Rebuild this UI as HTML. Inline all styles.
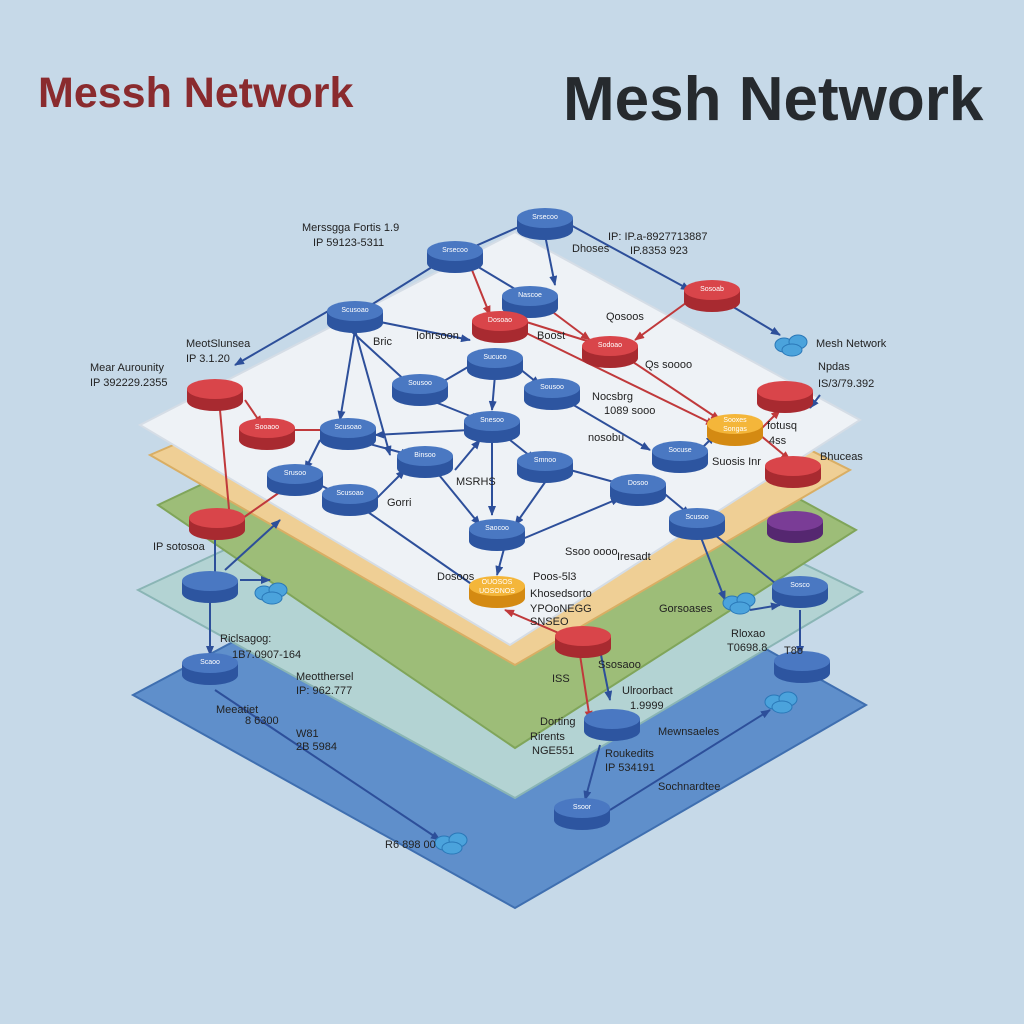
<!DOCTYPE html>
<html><head><meta charset="utf-8"><style>
html,body{margin:0;padding:0;background:#c6d9e8;}
svg{display:block;font-family:"Liberation Sans",sans-serif;}
</style></head><body>
<svg width="1024" height="1024" viewBox="0 0 1024 1024">
<defs>
<marker id="ab" markerUnits="userSpaceOnUse" markerWidth="10" markerHeight="8" refX="9" refY="4" orient="auto"><path d="M0,0 L10,4 L0,8 z" fill="#2d4f9a"/></marker>
<marker id="ar" markerUnits="userSpaceOnUse" markerWidth="10" markerHeight="8" refX="9" refY="4" orient="auto"><path d="M0,0 L10,4 L0,8 z" fill="#c0393b"/></marker>
<g id="cb"><path d="M-28,-4 v12 a28,10 0 0 0 56,0 v-12 z" fill="#2d55a0"/><ellipse cx="0" cy="-4" rx="28" ry="10" fill="#4a78c2"/></g>
<g id="cr"><path d="M-28,-4 v12 a28,10 0 0 0 56,0 v-12 z" fill="#a82a30"/><ellipse cx="0" cy="-4" rx="28" ry="10" fill="#d9454a"/></g>
<g id="co"><path d="M-28,-4 v12 a28,10 0 0 0 56,0 v-12 z" fill="#d48a12"/><ellipse cx="0" cy="-4" rx="28" ry="10" fill="#f4b63a"/></g>
<g id="cp"><path d="M-28,-4 v12 a28,10 0 0 0 56,0 v-12 z" fill="#552770"/><ellipse cx="0" cy="-4" rx="28" ry="10" fill="#7a3c96"/></g>
<g id="cl" fill="#4ba3dc" stroke="#2a78b8" stroke-width="1"><ellipse cx="-8" cy="0" rx="9" ry="7"/><ellipse cx="6" cy="-3" rx="9" ry="7"/><ellipse cx="0" cy="5" rx="10" ry="6"/></g>
</defs>
<rect width="1024" height="1024" fill="#c6d9e8"/>
<text x="38" y="107" font-size="43" font-weight="bold" fill="#8a2b2e">Messh Network</text>
<text x="563" y="120" font-size="62" font-weight="bold" fill="#262a2e">Mesh Network</text>

<polygon points="133,695 500,500 866,705 515,908" fill="#5f8fcb" stroke="#3f6fb0" stroke-width="2"/>
<polygon points="138,590 505,420 862,592 515,798" fill="#b3d3d3" stroke="#8ab5b5" stroke-width="2"/>
<polygon points="158,505 508,340 856,530 515,748" fill="#9dbd78" stroke="#80a55a" stroke-width="2"/>
<polygon points="150,455 510,300 850,470 515,665" fill="#efcf95" stroke="#d9ae64" stroke-width="2"/>
<polygon points="140,425 515,232 860,420 510,645" fill="#eef2f6" stroke="#d5dde6" stroke-width="2"/>

<g stroke="#2d4f9a" stroke-width="2" fill="none" marker-end="url(#ab)">
<path d="M455,255 L530,222"/><path d="M565,222 L690,290"/><path d="M355,315 L440,262"/>
<path d="M330,310 L235,365"/><path d="M470,262 L525,295"/><path d="M545,235 L555,285"/>
<path d="M380,322 L470,340"/><path d="M355,330 L340,420"/><path d="M350,330 L410,385"/>
<path d="M355,330 L390,455"/><path d="M420,395 L480,360"/><path d="M430,400 L480,420"/>
<path d="M515,365 L540,385"/><path d="M495,375 L492,410"/><path d="M565,400 L650,450"/>
<path d="M470,430 L375,435"/><path d="M320,440 L305,470"/><path d="M355,440 L410,455"/>
<path d="M455,470 L480,440"/><path d="M510,440 L535,460"/><path d="M492,440 L492,515"/>
<path d="M435,470 L480,525"/><path d="M548,478 L515,525"/><path d="M570,470 L625,485"/>
<path d="M375,500 L405,470"/><path d="M320,485 L340,495"/><path d="M365,510 L480,590"/>
<path d="M505,545 L497,575"/><path d="M520,540 L620,498"/><path d="M660,490 L690,515"/>
<path d="M690,460 L715,435"/><path d="M715,535 L790,595"/><path d="M700,535 L725,600"/>
<path d="M750,610 L780,605"/><path d="M800,610 L800,655"/><path d="M210,600 L210,655"/>
<path d="M240,580 L270,580"/><path d="M225,570 L280,520"/><path d="M610,810 L770,710"/>
<path d="M215,690 L440,840"/><path d="M600,745 L585,800"/><path d="M730,305 L780,335"/>
<path d="M215,510 L215,600"/><path d="M600,650 L610,700"/><path d="M820,395 L810,408"/>
</g>
<g stroke="#c0393b" stroke-width="2" fill="none" marker-end="url(#ar)">
<path d="M470,265 L490,315"/><path d="M520,320 L600,345"/><path d="M690,300 L635,340"/>
<path d="M550,310 L590,340"/><path d="M630,360 L720,420"/><path d="M520,330 L715,425"/>
<path d="M245,400 L262,425"/><path d="M290,430 L340,430"/><path d="M240,520 L290,485"/>
<path d="M760,430 L780,410"/><path d="M760,435 L790,460"/><path d="M575,640 L505,610"/>
<path d="M580,655 L590,720"/><path d="M220,410 L230,520"/>
</g>

<g>
<use href="#cb" x="545" y="222"/><use href="#cb" x="455" y="255"/><use href="#cb" x="355" y="315"/>
<use href="#cb" x="530" y="300"/><use href="#cb" x="495" y="362"/><use href="#cb" x="420" y="388"/>
<use href="#cb" x="552" y="392"/><use href="#cb" x="492" y="425"/><use href="#cb" x="348" y="432"/>
<use href="#cb" x="295" y="478"/><use href="#cb" x="425" y="460"/><use href="#cb" x="545" y="465"/>
<use href="#cb" x="350" y="498"/><use href="#cb" x="497" y="533"/><use href="#cb" x="638" y="488"/>
<use href="#cb" x="680" y="455"/><use href="#cb" x="697" y="522"/><use href="#cb" x="210" y="585"/>
<use href="#cb" x="800" y="590"/><use href="#cb" x="210" y="667"/><use href="#cb" x="802" y="665"/>
<use href="#cb" x="612" y="723"/><use href="#cb" x="582" y="812"/>
<use href="#cr" x="712" y="294"/><use href="#cr" x="500" y="325"/><use href="#cr" x="610" y="350"/>
<use href="#cr" x="215" y="393"/><use href="#cr" x="785" y="395"/><use href="#cr" x="267" y="432"/>
<use href="#cr" x="793" y="470"/><use href="#cr" x="217" y="522"/><use href="#cr" x="583" y="640"/>
<use href="#co" x="735" y="428"/><use href="#co" x="497" y="590"/><use href="#cp" x="795" y="525"/>
<use href="#cl" x="792" y="345"/><use href="#cl" x="272" y="593"/><use href="#cl" x="740" y="603"/>
<use href="#cl" x="782" y="702"/><use href="#cl" x="452" y="843"/>
</g>
<g font-size="7" fill="#fff" text-anchor="middle">
<text x="545" y="219">Srsecoo</text><text x="455" y="252">Srsecoo</text><text x="355" y="312">Scusoao</text>
<text x="530" y="297">Nascoe</text><text x="495" y="359">Sucuco</text><text x="420" y="385">Sousoo</text>
<text x="552" y="389">Sousoo</text><text x="492" y="422">Snesoo</text><text x="348" y="429">Scusoao</text>
<text x="295" y="475">Srusoo</text><text x="425" y="457">Binsoo</text><text x="545" y="462">Smnoo</text>
<text x="350" y="495">Scusoao</text><text x="497" y="530">Saocoo</text><text x="638" y="485">Dosoo</text>
<text x="680" y="452">Socuse</text><text x="697" y="519">Scusoo</text><text x="800" y="587">Sosco</text>
<text x="210" y="664">Scaoo</text><text x="582" y="809">Ssoor</text>
<text x="712" y="291">Sosoab</text><text x="500" y="322">Dosoao</text><text x="610" y="347">Sodoao</text>
<text x="267" y="429">Sooaoo</text><text x="735" y="422">Sooxes</text><text x="735" y="431">Songas</text>
<text x="497" y="584">OUOSOS</text><text x="497" y="593">UOSONOS</text>
</g>

<g font-size="11" fill="#222">
<text x="302" y="231">Merssgga Fortis 1.9</text><text x="313" y="246">IP 59123-5311</text>
<text x="608" y="240">IP: IP.a-8927713887</text><text x="572" y="252">Dhoses</text><text x="630" y="254">IP.8353 923</text>
<text x="186" y="347">MeotSlunsea</text><text x="186" y="362">IP 3.1.20</text>
<text x="90" y="371">Mear Aurounity</text><text x="90" y="386">IP 392229.2355</text>
<text x="416" y="339">Iohrsoon</text><text x="373" y="345">Bric</text><text x="537" y="339">Boost</text>
<text x="606" y="320">Qosoos</text><text x="645" y="368">Qs soooo</text>
<text x="816" y="347">Mesh Network</text><text x="818" y="370">Npdas</text><text x="818" y="387">IS/3/79.392</text>
<text x="592" y="400">Nocsbrg</text><text x="604" y="414">1089 sooo</text><text x="588" y="441">nosobu</text>
<text x="767" y="429">fotusq</text><text x="769" y="444">4ss</text><text x="712" y="465">Suosis Inr</text>
<text x="820" y="460">Bhuceas</text><text x="456" y="485">MSRHS</text><text x="387" y="506">Gorri</text>
<text x="153" y="550">IP sotosoa</text><text x="617" y="560">Iresadt</text><text x="565" y="555">Ssoo oooo</text>
<text x="437" y="580">Dosoos</text><text x="533" y="580">Poos-5l3</text><text x="530" y="597">Khosedsorto</text>
<text x="530" y="612">YPOoNEGG</text><text x="530" y="625">SNSEO</text><text x="659" y="612">Gorsoases</text>
<text x="731" y="637">Rloxao</text><text x="727" y="651">T0698.8</text><text x="784" y="654">T8o</text>
<text x="220" y="642">Riclsagog:</text><text x="232" y="658">1B7.0907-164</text>
<text x="296" y="680">Meotthersel</text><text x="296" y="694">IP: 962.777</text><text x="598" y="668">Ssosaoo</text>
<text x="552" y="682">ISS</text><text x="622" y="694">Ulroorbact</text><text x="630" y="709">1.9999</text>
<text x="216" y="713">Meeatiet</text><text x="245" y="724">8 6300</text>
<text x="540" y="725">Dorting</text><text x="530" y="740">Rirents</text><text x="532" y="754">NGE551</text>
<text x="658" y="735">Mewnsaeles</text><text x="605" y="757">Roukedits</text><text x="605" y="771">IP 534191</text>
<text x="296" y="737">W81</text><text x="296" y="750">2B 5984</text><text x="658" y="790">Sochnardtee</text>
<text x="385" y="848">R6 898 00</text>
</g>
</svg>
</body></html>
